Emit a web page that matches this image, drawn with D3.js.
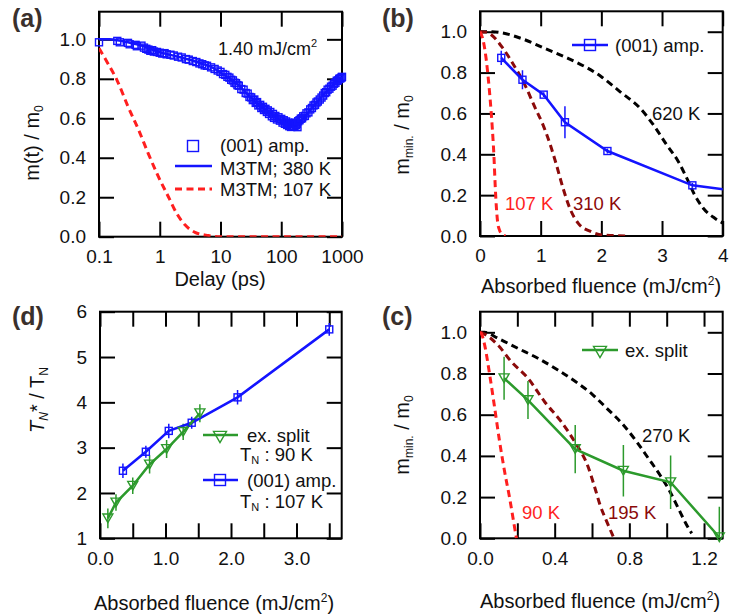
<!DOCTYPE html>
<html>
<head>
<meta charset="utf-8">
<script src="https://cdn.jsdelivr.net/npm/d3@7"></script>
<style>
  body { margin: 0; background: #fff; }
  svg { font-family: "Liberation Sans", Arial, Helvetica, sans-serif; }
</style>
</head>
<body>
<svg id="fig" width="729" height="614"></svg>
<script>
'use strict'

// ---------- (a) delay scan, 1.40 mJ/cm2 ----------
let delayA = [0.1,0.2,0.22,0.3,0.32,0.4,0.42,0.5,0.55,0.6,0.65,0.7,0.75,0.8,0.9,1.0,1.1,1.2,1.3,1.5,1.7,2.0,2.3,2.7,3.0,3.5,4.0,4.5,5.0,5.5,6.0,7.0,8.0,9.0,
  10,11,12,13,14,15,16,17,18,19,20,22,24,26,28,30,32,34,36,38,40,42,45,47,50,52,55,58,60,63,66,70,73,76,80,85,90,95,100,105,110,115,120,125,130,135,140,145,150,155,160,165,170,175,180,185,190,
  200,210,220,230,245,260,280,300,320,340,360,380,400,430,460,490,520,550,580,620,660,700,740,780,820,860,900,940,980,1000];
let ampA = [0.985,0.992,0.985,0.982,0.975,0.972,0.965,0.968,0.958,0.952,0.948,0.942,0.945,0.938,0.936,0.932,0.928,0.93,0.924,0.922,0.918,0.912,0.908,0.9,0.897,0.89,0.885,0.878,0.874,0.868,0.866,0.858,0.85,0.842,
  0.835,0.824,0.82,0.81,0.806,0.795,0.792,0.78,0.778,0.768,0.765,0.748,0.745,0.728,0.725,0.708,0.706,0.692,0.695,0.678,0.682,0.665,0.668,0.652,0.658,0.642,0.648,0.632,0.64,0.622,0.632,0.61,0.622,0.602,0.612,0.594,0.605,0.588,0.597,0.578,0.59,0.572,0.584,0.566,0.578,0.56,0.574,0.556,0.572,0.558,0.575,0.56,0.578,0.565,0.572,0.555,0.585,
  0.59,0.598,0.6,0.61,0.612,0.625,0.63,0.645,0.652,0.665,0.668,0.68,0.685,0.695,0.705,0.715,0.728,0.732,0.745,0.75,0.76,0.765,0.775,0.78,0.79,0.792,0.8,0.802,0.806,0.81];
let m3tmDelay = [0.1,0.15,0.2,0.3,0.5,0.7,1,2,3,5,7,10,15,20,30,50,70,100,140,180,230,300,400,500,700,1000];
let m3tm380 = [1.0,1.0,0.995,0.985,0.968,0.952,0.935,0.912,0.898,0.876,0.86,0.832,0.797,0.766,0.712,0.652,0.616,0.588,0.568,0.57,0.6,0.642,0.686,0.72,0.767,0.808];
let m3tm107Delay = [0.1,0.14,0.2,0.3,0.45,0.65,0.95,1.4,1.9,2.6,3.8,6.3,10,30,100,1000];
let m3tm107 = [0.955,0.878,0.79,0.66,0.54,0.42,0.304,0.2,0.118,0.06,0.022,0.006,0,0,0,0];
let ticksA_x = [0.1,1,10,100,1000];
let ticksM_y = [0,0.2,0.4,0.6,0.8,1.0];

// ---------- (b) m_min vs fluence, (001) amp. ----------
let fluB = [0.35,0.7,1.05,1.4,2.1,3.5,4.2];
let ampB = [0.872,0.765,0.692,0.557,0.416,0.248,0.221];
let errB = [0.035,0.046,0.012,0.078,0.012,0.012,0];
let fluB107 = [0,0.05,0.1,0.14,0.17,0.2,0.23,0.25,0.27,0.29,0.32,0.36,0.42];
let mB107 = [1.0,0.96,0.87,0.76,0.66,0.54,0.39,0.25,0.14,0.07,0.03,0.01,0];
let fluB310 = [0,0.1,0.19,0.38,0.57,0.74,0.9,1.04,1.15,1.26,1.37,1.48,1.62,1.83,2.03,2.45];
let mB310 = [1.0,0.998,0.984,0.918,0.83,0.74,0.633,0.543,0.454,0.348,0.233,0.136,0.062,0.021,0.005,0];
let fluB620 = [0,0.2,0.35,0.7,1.07,1.45,2.0,2.31,2.64,2.86,3.08,3.27,3.41,3.54,3.68,3.87,4.01];
let mB620 = [1.0,1.0,0.995,0.965,0.918,0.87,0.78,0.706,0.625,0.543,0.445,0.364,0.282,0.2,0.136,0.087,0.062];
let ticksB_x = [0,1,2,3,4];

// ---------- (c) m_min vs fluence, ex. split ----------
let fluC = [0.129,0.257,0.51,0.768,1.021,1.282];
let splitC = [0.777,0.671,0.433,0.328,0.272,0.005];
let errC = [0.104,0.092,0.117,0.125,0.13,0.148];
let fluC90 = [0,0.007,0.025,0.052,0.079,0.105,0.132,0.159,0.177,0.195];
let mC90 = [1.0,0.995,0.938,0.793,0.631,0.469,0.323,0.194,0.097,0];
let fluC195 = [0,0.016,0.096,0.168,0.257,0.346,0.435,0.507,0.58,0.616,0.643,0.679,0.714];
let mC195 = [1.0,0.995,0.938,0.857,0.777,0.663,0.566,0.469,0.345,0.243,0.162,0.081,0.008];
let fluC270 = [0,0.025,0.096,0.203,0.31,0.417,0.525,0.6,0.679,0.768,0.839,0.902,0.964,1.018,1.062,1.107,1.134];
let mC270 = [1.0,1.0,0.971,0.922,0.874,0.817,0.752,0.7,0.631,0.55,0.469,0.388,0.307,0.226,0.146,0.065,0.024];
let ticksC_x = [0,0.2,0.4,0.6,0.8,1.0,1.2];

// ---------- (d) T_N* / T_N ----------
let fluD_amp = [0.35,0.7,1.05,1.4,2.1,3.5];
let tnD_amp = [2.49,2.91,3.37,3.55,4.11,5.61];
let errD_amp = [0.16,0.13,0.16,0.13,0.16,0.14];
let fluD_split = [0.12,0.244,0.5,0.757,1.017,1.27,1.525];
let tnD_split = [1.44,1.79,2.16,2.63,2.97,3.35,3.76];
let errD_split = [0.22,0.18,0.18,0.2,0.2,0.18,0.2];
let ticksD_x = [0,0.5,1,1.5,2,2.5,3,3.5];
let ticksD_y = [1,2,3,4,5,6];

// ---------- drawing ----------
const BLUE = '#1414ff', RED = '#ff1f1f', DRED = '#8b0a0a', GREEN = '#2c9a2c', LBL = '#3a302c';
const TICK = 15;
let svg = d3.select('#fig');

function zip(xs, ys) { return xs.map(function(v, i) { return [v, ys[i]]; }); }

function frame(id, x, y, xTicks, xFmt, yTicks, yFmt) {
  let g = svg.append('g');
  let r = x.range(), ry = y.range();
  let axes = [
    [d3.axisBottom(x).tickValues(xTicks).tickFormat(xFmt), 'translate(0,' + ry[0] + ')'],
    [d3.axisTop(x).tickValues(xTicks).tickFormat(''), 'translate(0,' + ry[1] + ')'],
    [d3.axisLeft(y).tickValues(yTicks).tickFormat(yFmt), 'translate(' + r[0] + ',0)'],
    [d3.axisRight(y).tickValues(yTicks).tickFormat(''), 'translate(' + r[1] + ',0)']
  ];
  axes.forEach(function(a) {
    let ax = g.append('g').attr('transform', a[1])
      .call(a[0].tickSize(-TICK).tickSizeOuter(0).tickPadding(13));
    ax.select('.domain').remove();
    ax.selectAll('line').attr('stroke', '#000').attr('stroke-width', 2);
    ax.selectAll('text').attr('font-size', 19).attr('fill', '#111')
      .attr('font-family', '"Liberation Sans", Arial, sans-serif');
  });
  g.append('rect').attr('x', r[0]).attr('y', ry[1])
    .attr('width', r[1] - r[0]).attr('height', ry[0] - ry[1])
    .attr('fill', 'none').attr('stroke', '#000').attr('stroke-width', 2);
  svg.append('clipPath').attr('id', id).append('rect')
    .attr('x', r[0]).attr('y', ry[1]).attr('width', r[1] - r[0]).attr('height', ry[0] - ry[1]);
  return g;
}

function curve(x, y, pts, color, dashed, clip) {
  let line = d3.line().x(function(d) { return x(d[0]); }).y(function(d) { return y(d[1]); })
    .curve(d3.curveMonotoneX);
  svg.append('path').datum(pts).attr('d', line)
    .attr('fill', 'none').attr('stroke', color).attr('stroke-width', dashed ? 3 : 2.5)
    .attr('stroke-dasharray', dashed ? '7,4.5' : null)
    .attr('clip-path', 'url(#' + clip + ')');
}

function polyline(x, y, pts, color, clip) {
  let line = d3.line().x(function(d) { return x(d[0]); }).y(function(d) { return y(d[1]); });
  svg.append('path').datum(pts).attr('d', line)
    .attr('fill', 'none').attr('stroke', color).attr('stroke-width', 2.5)
    .attr('clip-path', 'url(#' + clip + ')');
}

function errbars(x, y, pts, errs, color, clip) {
  svg.append('g').attr('clip-path', 'url(#' + clip + ')').selectAll('line')
    .data(pts).enter().append('line')
    .attr('x1', function(d) { return x(d[0]); }).attr('x2', function(d) { return x(d[0]); })
    .attr('y1', function(d, i) { return y(d[1] - errs[i]); })
    .attr('y2', function(d, i) { return y(d[1] + errs[i]); })
    .attr('stroke', color).attr('stroke-width', 1.5);
}

function squares(g, px, py, s, color) {
  g.append('rect').attr('x', px - s / 2).attr('y', py - s / 2).attr('width', s).attr('height', s)
    .attr('fill', 'none').attr('stroke', color).attr('stroke-width', 1.4);
}
function triangle(g, px, py, s, color) {
  let h = s * 0.87;
  g.append('path')
    .attr('d', 'M' + (px - s / 2) + ',' + (py - h / 2) + 'L' + (px + s / 2) + ',' + (py - h / 2) + 'L' + px + ',' + (py + h / 2) + 'Z')
    .attr('fill', 'none').attr('stroke', color).attr('stroke-width', 1.4);
}

function markers(x, y, pts, kind, color, s) {
  let g = svg.append('g');
  let dom = x.domain();
  pts.forEach(function(d) {
    if (d[0] < dom[0] || d[0] > dom[1]) return;
    if (kind === 'sq') squares(g, x(d[0]), y(d[1]), s, color);
    else triangle(g, x(d[0]), y(d[1]), s, color);
  });
}

function label(txt, px, py, color, size, anchor) {
  return svg.append('text').attr('x', px).attr('y', py).attr('fill', color || '#111')
    .attr('font-size', size || 18.5).attr('text-anchor', anchor || 'start').text(txt);
}

function panelTag(txt, px, py) {
  svg.append('text').attr('x', px).attr('y', py).attr('font-size', 25).attr('font-weight', 'bold')
    .attr('fill', LBL).text(txt);
}

function fluenceTitle(cx, py) {
  let t = svg.append('text').attr('x', cx).attr('y', py).attr('font-size', 20)
    .attr('text-anchor', 'middle').attr('fill', '#111');
  t.append('tspan').text('Absorbed fluence (mJ/cm');
  t.append('tspan').attr('font-size', 12).attr('dy', -8).text('2');
  t.append('tspan').attr('dy', 8).text(')');
}

function mminTitle(px, cy) {
  let t = svg.append('text').attr('transform', 'translate(' + px + ',' + cy + ') rotate(-90)')
    .attr('font-size', 20).attr('text-anchor', 'middle').attr('fill', '#111');
  t.append('tspan').text('m');
  t.append('tspan').attr('font-size', 12).attr('dy', 4).text('min.');
  t.append('tspan').attr('dy', -4).text(' / m');
  t.append('tspan').attr('font-size', 12).attr('dy', 4).text('0');
}

let fmt1 = d3.format('.1f');

// ----- panel (a) -----
let xA = d3.scaleLog().domain([0.1, 1000]).range([99, 342]);
let yA = d3.scaleLinear().domain([0, 1.14]).range([236.7, 11.7]);
frame('clipA', xA, yA, ticksA_x, function(d) { return d < 1 ? '0.1' : d3.format('d')(d); }, ticksM_y, fmt1);
curve(xA, yA, zip(m3tm107Delay, m3tm107), RED, true, 'clipA');
curve(xA, yA, zip(m3tmDelay, m3tm380), BLUE, false, 'clipA');
markers(xA, yA, zip(delayA, ampA), 'sq', BLUE, 7);
panelTag('(a)', 12, 27);
let ta = label('1.40 mJ/cm', 218, 55, '#111', 18);
ta.append('tspan').attr('font-size', 11).attr('dy', -8).text('2');
{
  let lg = svg.append('g');
  squares(lg, 193, 146, 11, BLUE);
  lg.append('line').attr('x1', 175).attr('x2', 212).attr('y1', 166).attr('y2', 166).attr('stroke', BLUE).attr('stroke-width', 2.5);
  lg.append('line').attr('x1', 175).attr('x2', 212).attr('y1', 189).attr('y2', 189).attr('stroke', RED).attr('stroke-width', 3).attr('stroke-dasharray', '7,4.5');
  label('(001) amp.', 220, 152);
  label('M3TM; 380 K', 220, 175);
  label('M3TM; 107 K', 220, 196);
}
label('Delay (ps)', 220, 286, '#111', 20, 'middle');
{
  let t = svg.append('text').attr('transform', 'translate(39,143) rotate(-90)')
    .attr('font-size', 20).attr('text-anchor', 'middle').attr('fill', '#111');
  t.append('tspan').text('m(t) / m');
  t.append('tspan').attr('font-size', 12).attr('dy', 4).text('0');
}

// ----- panel (b) -----
let xB = d3.scaleLinear().domain([0, 4]).range([480, 722.7]);
let yB = d3.scaleLinear().domain([0, 1.1]).range([236, 11.3]);
frame('clipB', xB, yB, ticksB_x, d3.format('d'), ticksM_y, fmt1);
curve(xB, yB, zip(fluB620, mB620), '#000', true, 'clipB');
curve(xB, yB, zip(fluB310, mB310), DRED, true, 'clipB');
curve(xB, yB, zip(fluB107, mB107), RED, true, 'clipB');
errbars(xB, yB, zip(fluB, ampB), errB, BLUE, 'clipB');
polyline(xB, yB, zip(fluB, ampB), BLUE, 'clipB');
markers(xB, yB, zip(fluB, ampB), 'sq', BLUE, 7);
panelTag('(b)', 382, 27);
{
  let lg = svg.append('g');
  lg.append('line').attr('x1', 572).attr('x2', 608).attr('y1', 45).attr('y2', 45).attr('stroke', BLUE).attr('stroke-width', 2.5);
  squares(lg, 590, 45, 11, BLUE);
  label('(001) amp.', 615, 51.5);
}
label('620 K', 652, 120, '#111');
label('107 K', 505, 210, RED);
label('310 K', 573, 210, DRED);
fluenceTitle(601, 293);
mminTitle(409, 135);

// ----- panel (c) -----
let xC = d3.scaleLinear().domain([0, 1.3]).range([480, 722.7]);
let yC = d3.scaleLinear().domain([0, 1.1]).range([538.3, 311.7]);
frame('clipC', xC, yC, ticksC_x, function(d) { return Math.round(d * 10) % 4 === 0 ? fmt1(d) : ''; }, ticksM_y, fmt1);
curve(xC, yC, zip(fluC270, mC270), '#000', true, 'clipC');
curve(xC, yC, zip(fluC195, mC195), DRED, true, 'clipC');
curve(xC, yC, zip(fluC90, mC90), RED, true, 'clipC');
errbars(xC, yC, zip(fluC, splitC), errC, GREEN, 'clipC');
polyline(xC, yC, zip(fluC, splitC), GREEN, 'clipC');
markers(xC, yC, zip(fluC, splitC), 'tri', GREEN, 10);
panelTag('(c)', 382, 325);
{
  let lg = svg.append('g');
  lg.append('line').attr('x1', 582).attr('x2', 618).attr('y1', 350).attr('y2', 350).attr('stroke', GREEN).attr('stroke-width', 2.5);
  triangle(lg, 600, 352, 13, GREEN);
  label('ex. split', 625, 356.5);
}
label('270 K', 642, 442, '#111');
label('90 K', 522, 519, RED);
label('195 K', 608, 519, DRED);
fluenceTitle(600, 608);
mminTitle(409, 435);

// ----- panel (d) -----
let xD = d3.scaleLinear().domain([0, 3.69]).range([100, 341.7]);
let yD = d3.scaleLinear().domain([1, 6]).range([538.3, 311.7]);
frame('clipD', xD, yD, ticksD_x, function(d) { return d % 1 === 0 ? fmt1(d) : ''; }, ticksD_y, d3.format('d'));
errbars(xD, yD, zip(fluD_amp, tnD_amp), errD_amp, BLUE, 'clipD');
errbars(xD, yD, zip(fluD_split, tnD_split), errD_split, GREEN, 'clipD');
polyline(xD, yD, zip(fluD_amp, tnD_amp), BLUE, 'clipD');
polyline(xD, yD, zip(fluD_split, tnD_split), GREEN, 'clipD');
markers(xD, yD, zip(fluD_amp, tnD_amp), 'sq', BLUE, 7);
markers(xD, yD, zip(fluD_split, tnD_split), 'tri', GREEN, 10);
panelTag('(d)', 12, 325);
{
  let lg = svg.append('g');
  lg.append('line').attr('x1', 203).attr('x2', 238).attr('y1', 435).attr('y2', 435).attr('stroke', GREEN).attr('stroke-width', 2.5);
  triangle(lg, 220, 437, 13, GREEN);
  lg.append('line').attr('x1', 203).attr('x2', 238).attr('y1', 480).attr('y2', 480).attr('stroke', BLUE).attr('stroke-width', 2.5);
  squares(lg, 220, 480, 11, BLUE);
  label('ex. split', 247, 441.5);
  label('(001) amp.', 247, 486.5);
  [[461, '90 K'], [508, '107 K']].forEach(function(r) {
    let t = label('T', 240, r[0]);
    t.append('tspan').attr('font-size', 11).attr('dy', 3).text('N');
    t.append('tspan').attr('dy', -3).text(' : ' + r[1]);
  });
}
fluenceTitle(214, 610);
{
  let t = svg.append('text').attr('transform', 'translate(44,400) rotate(-90)')
    .attr('font-size', 20).attr('text-anchor', 'middle').attr('fill', '#111');
  t.append('tspan').attr('font-style', 'italic').text('T');
  t.append('tspan').attr('font-style', 'italic').attr('font-size', 12).attr('dy', 4).text('N');
  t.append('tspan').attr('dy', -4).text('* / T');
  t.append('tspan').attr('font-size', 12).attr('dy', 4).text('N');
}
</script>
</body>
</html>
